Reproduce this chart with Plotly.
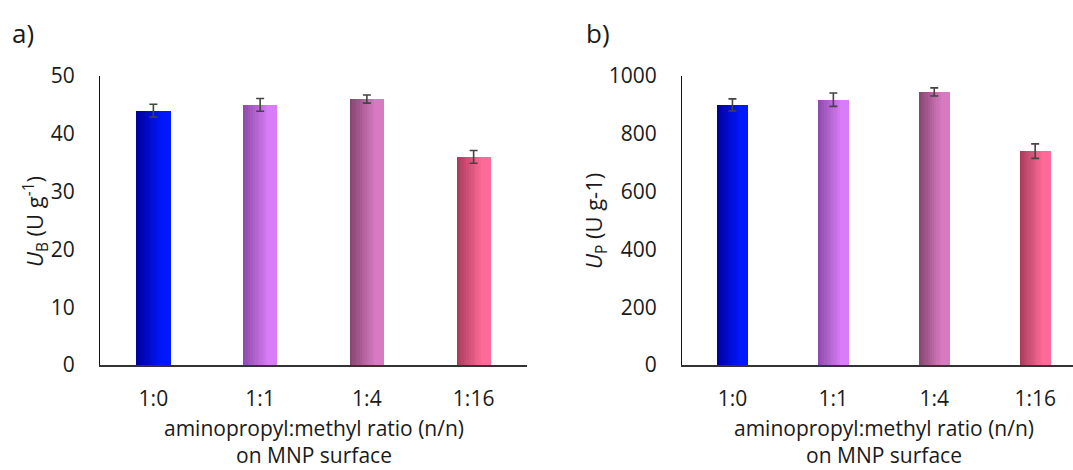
import plotly.graph_objects as go

categories = ["1:0", "1:1", "1:4", "1:16"]
ub_values = [44, 45, 46, 36]
ub_errors = [1.1, 1.1, 0.7, 1.1]
up_values = [900, 918, 945, 740]
up_errors = [21, 23, 14, 25]

left_colors = ["#00009c", "#8c4aa8", "#85446f", "#a63a5a"]
right_colors = ["#0018ff", "#d97cf7", "#d77ac2", "#ff6b98"]

FONT = "Open Sans"
N_STRIPS = 14


def hex2rgb(h):
    h = h.lstrip("#")
    return [int(h[i:i + 2], 16) for i in (0, 2, 4)]


def mix(c1, c2, t):
    a, b = hex2rgb(c1), hex2rgb(c2)
    return "rgb(%d,%d,%d)" % tuple(round(a[i] + (b[i] - a[i]) * t) for i in range(3))


fig = go.Figure()


def add_panel(values, errors, xa, ya, bar_w):
    for k in range(N_STRIPS):
        t = min(1.0, (k + 0.5) / (N_STRIPS * 0.75))
        cols = [mix(l, r, t) for l, r in zip(left_colors, right_colors)]
        fig.add_trace(go.Bar(
            x=categories, y=values,
            width=bar_w / N_STRIPS * 1.08,
            offset=-bar_w / 2 + k * bar_w / N_STRIPS,
            marker=dict(color=cols, line=dict(width=0)),
            xaxis=xa, yaxis=ya, showlegend=False, hoverinfo="skip",
        ))
    fig.add_trace(go.Scatter(
        x=categories, y=values, mode="markers",
        marker=dict(size=1, opacity=0),
        error_y=dict(type="data", array=errors, visible=True,
                     color="#444444", thickness=1.6, width=4),
        xaxis=xa, yaxis=ya, showlegend=False, hoverinfo="skip",
    ))


add_panel(ub_values, ub_errors, "x", "y", 0.32)
add_panel(up_values, up_errors, "x2", "y2", 0.31)

W, H = 1073, 470
ydom = [1 - 365 / H, 1 - 76 / H]
TICK = dict(family=FONT, size=21, color="#1a1a1a")

axis_x_common = dict(
    showgrid=False, zeroline=False, showline=True, linecolor="#333333",
    linewidth=1.6, ticks="", tickfont=TICK, automargin=False,
    ticklabelstandoff=14, type="category", fixedrange=True,
)
axis_y_common = dict(
    showgrid=False, zeroline=False, showline=True, linecolor="#111111",
    linewidth=1.2, ticks="", tickfont=TICK, automargin=False,
    ticklabelstandoff=20, fixedrange=True,
)

fig.update_layout(
    width=W, height=H,
    margin=dict(l=0, r=0, t=0, b=0),
    paper_bgcolor="white", plot_bgcolor="white",
    barmode="overlay", bargap=0,
    xaxis=dict(domain=[100 / W, 527 / W], range=[-0.5, 3.5], anchor="y", **axis_x_common),
    yaxis=dict(domain=ydom, range=[0, 50], tickvals=[0, 10, 20, 30, 40, 50], anchor="x", **axis_y_common),
    xaxis2=dict(domain=[682 / W, 1.0], range=[-0.5, 3.375], anchor="y2", **axis_x_common),
    yaxis2=dict(domain=ydom, range=[0, 1000], tickvals=[0, 200, 400, 600, 800, 1000], anchor="x2", **axis_y_common),
)

tf = dict(family=FONT, size=21, color="#1a1a1a")
ann = []
for xc in [(100 + 527) / 2, (682 + 1085) / 2]:
    ann.append(dict(x=xc / W, y=0, xref="paper", yref="paper",
                    text="aminopropyl:methyl ratio (n/n)<br>on MNP surface",
                    showarrow=False, font=tf, align="center", borderpad=0,
                    xanchor="center", yanchor="bottom"))
ann.append(dict(x=35 / W, y=1 - 221 / H, xref="paper", yref="paper",
                text="<i>U</i><sub>B</sub> (U g<sup>-1</sup>)", textangle=-90,
                showarrow=False, font=dict(family=FONT, size=22, color="#1a1a1a"),
                xanchor="center", yanchor="middle"))
ann.append(dict(x=595 / W, y=1 - 221 / H, xref="paper", yref="paper",
                text="<i>U</i><sub>P</sub> (U g-1)", textangle=-90,
                showarrow=False, font=dict(family=FONT, size=22, color="#1a1a1a"),
                xanchor="center", yanchor="middle"))
ann.append(dict(x=10 / W, y=1 - 33 / H, xref="paper", yref="paper", text="a)",
                showarrow=False, font=dict(family=FONT, size=26, color="#1a1a1a"),
                xanchor="left", yanchor="middle"))
ann.append(dict(x=584 / W, y=1 - 33 / H, xref="paper", yref="paper", text="b)",
                showarrow=False, font=dict(family=FONT, size=26, color="#1a1a1a"),
                xanchor="left", yanchor="middle"))
fig.update_layout(annotations=ann)

fig.write_html("out.html")
